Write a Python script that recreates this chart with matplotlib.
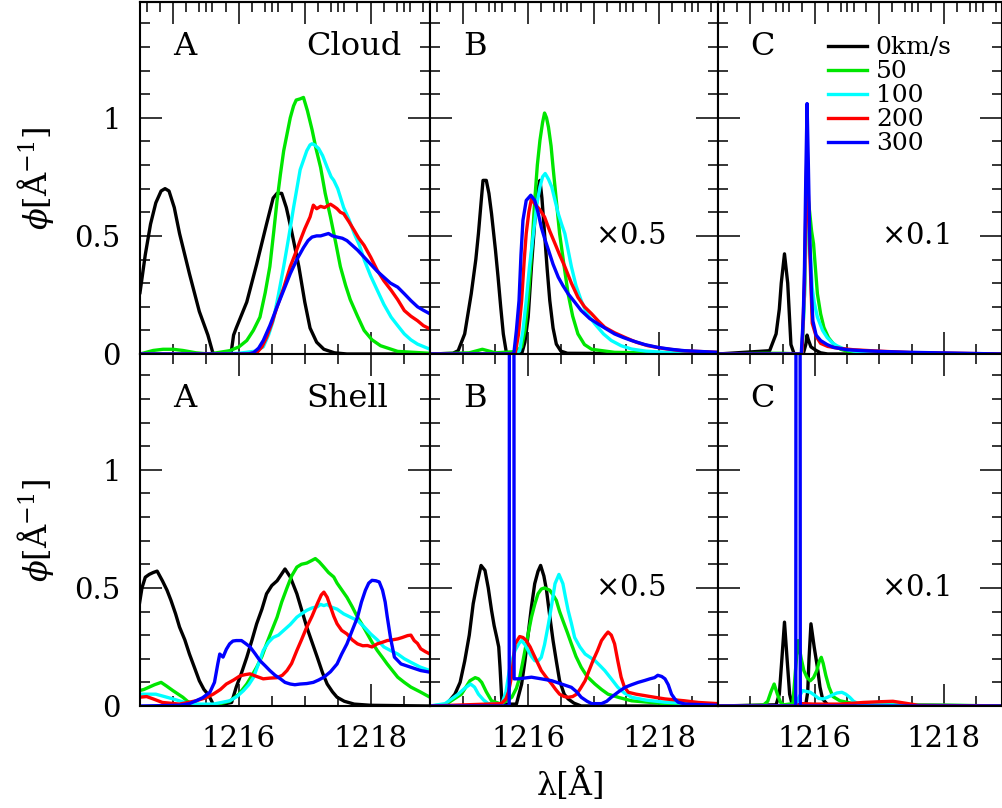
import numpy as np
import matplotlib
matplotlib.use("Agg")
import matplotlib.pyplot as plt
from matplotlib.ticker import MultipleLocator, FuncFormatter, FixedLocator

plt.rcParams['font.family'] = ['DejaVu Serif']
plt.rcParams['mathtext.fontset'] = 'dejavuserif'

## ---- Cloud, panel A ----
cA_x0 = [1214.50, 1214.58, 1214.66, 1214.74, 1214.82, 1214.88, 1214.94, 1215.02, 1215.10, 1215.25, 1215.40, 1215.53, 1215.60, 1215.62, 1215.88, 1215.92, 1215.96, 1216.12, 1216.27, 1216.42, 1216.52, 1216.58, 1216.65, 1216.72, 1216.80, 1216.91, 1217.00, 1217.08, 1217.18, 1217.29, 1217.45, 1217.64, 1218.90]
cA_y0 = [0.26, 0.42, 0.55, 0.64, 0.69, 0.70, 0.69, 0.62, 0.51, 0.34, 0.18, 0.08, 0.01, 0.00, 0.00, 0.08, 0.11, 0.22, 0.38, 0.55, 0.66, 0.68, 0.68, 0.62, 0.52, 0.37, 0.22, 0.11, 0.05, 0.02, 0.005, 0.0, 0.0]
cA_x50 = [1214.50, 1214.70, 1214.85, 1215.00, 1215.15, 1215.35, 1215.55, 1215.86, 1216.00, 1216.12, 1216.22, 1216.32, 1216.40, 1216.47, 1216.53, 1216.58, 1216.63, 1216.68, 1216.73, 1216.78, 1216.83, 1216.87, 1216.93, 1216.98, 1217.04, 1217.11, 1217.17, 1217.24, 1217.31, 1217.39, 1217.47, 1217.54, 1217.62, 1217.69, 1217.80, 1217.90, 1218.02, 1218.15, 1218.41, 1218.90]
cA_y50 = [0.0, 0.015, 0.02, 0.02, 0.015, 0.005, 0.0, 0.014, 0.03, 0.057, 0.10, 0.156, 0.26, 0.37, 0.52, 0.65, 0.76, 0.86, 0.93, 1.0, 1.05, 1.075, 1.08, 1.086, 1.03, 0.95, 0.87, 0.79, 0.68, 0.58, 0.47, 0.37, 0.29, 0.23, 0.16, 0.10, 0.06, 0.035, 0.011, 0.003]
cA_x100 = [1214.50, 1215.50, 1216.00, 1216.25, 1216.37, 1216.45, 1216.52, 1216.60, 1216.68, 1216.76, 1216.83, 1216.88, 1216.93, 1216.98, 1217.03, 1217.08, 1217.11, 1217.15, 1217.21, 1217.27, 1217.34, 1217.40, 1217.44, 1217.50, 1217.59, 1217.67, 1217.75, 1217.83, 1217.90, 1218.00, 1218.10, 1218.20, 1218.31, 1218.41, 1218.51, 1218.61, 1218.71, 1218.90]
cA_y100 = [0.0, 0.0, 0.003, 0.012, 0.03, 0.08, 0.14, 0.25, 0.37, 0.50, 0.62, 0.70, 0.78, 0.82, 0.86, 0.885, 0.89, 0.885, 0.87, 0.84, 0.79, 0.75, 0.735, 0.70, 0.62, 0.57, 0.51, 0.46, 0.40, 0.33, 0.27, 0.21, 0.156, 0.12, 0.085, 0.06, 0.042, 0.02]
cA_x200 = [1214.50, 1216.10, 1216.27, 1216.35, 1216.42, 1216.50, 1216.58, 1216.68, 1216.78, 1216.85, 1216.93, 1217.00, 1217.08, 1217.13, 1217.18, 1217.24, 1217.30, 1217.39, 1217.44, 1217.49, 1217.54, 1217.59, 1217.67, 1217.75, 1217.82, 1217.90, 1218.00, 1218.10, 1218.20, 1218.31, 1218.41, 1218.51, 1218.61, 1218.71, 1218.80, 1218.90]
cA_y200 = [0.0, 0.0, 0.005, 0.03, 0.07, 0.13, 0.20, 0.28, 0.37, 0.42, 0.48, 0.53, 0.58, 0.63, 0.615, 0.625, 0.62, 0.634, 0.625, 0.615, 0.60, 0.594, 0.56, 0.523, 0.49, 0.46, 0.41, 0.354, 0.31, 0.27, 0.23, 0.184, 0.16, 0.141, 0.12, 0.106]
cA_x300 = [1214.50, 1216.15, 1216.22, 1216.30, 1216.37, 1216.47, 1216.58, 1216.68, 1216.78, 1216.88, 1216.98, 1217.05, 1217.11, 1217.18, 1217.24, 1217.30, 1217.36, 1217.42, 1217.49, 1217.57, 1217.64, 1217.72, 1217.80, 1217.90, 1218.00, 1218.10, 1218.20, 1218.30, 1218.41, 1218.51, 1218.61, 1218.71, 1218.80, 1218.90]
cA_y300 = [0.0, 0.0, 0.005, 0.025, 0.057, 0.12, 0.20, 0.27, 0.34, 0.40, 0.45, 0.48, 0.495, 0.50, 0.50, 0.505, 0.51, 0.50, 0.495, 0.49, 0.48, 0.46, 0.44, 0.41, 0.38, 0.35, 0.325, 0.30, 0.283, 0.255, 0.226, 0.20, 0.185, 0.17]

## ---- Cloud, panel B (x0.5) ----
cB_x0 = [1214.50, 1214.85, 1214.93, 1215.03, 1215.13, 1215.20, 1215.24, 1215.28, 1215.31, 1215.36, 1215.40, 1215.44, 1215.50, 1215.54, 1215.58, 1215.62, 1215.67, 1215.90, 1215.95, 1216.00, 1216.05, 1216.10, 1216.15, 1216.18, 1216.21, 1216.25, 1216.29, 1216.33, 1216.38, 1216.43, 1216.50, 1216.60, 1218.90]
cB_y0 = [0.0, 0.003, 0.014, 0.085, 0.255, 0.40, 0.51, 0.64, 0.735, 0.735, 0.68, 0.594, 0.44, 0.325, 0.20, 0.085, 0.0, 0.0, 0.05, 0.156, 0.37, 0.56, 0.70, 0.735, 0.66, 0.51, 0.36, 0.226, 0.11, 0.042, 0.012, 0.003, 0.0]
cB_x50 = [1214.50, 1215.10, 1215.30, 1215.50, 1215.80, 1215.90, 1215.95, 1216.00, 1216.05, 1216.10, 1216.14, 1216.18, 1216.22, 1216.25, 1216.28, 1216.31, 1216.35, 1216.38, 1216.43, 1216.48, 1216.55, 1216.61, 1216.68, 1216.76, 1216.86, 1216.97, 1217.32, 1218.90]
cB_y50 = [0.0, 0.005, 0.02, 0.005, 0.01, 0.03, 0.10, 0.23, 0.42, 0.65, 0.80, 0.905, 0.98, 1.02, 1.0, 0.96, 0.88, 0.79, 0.65, 0.51, 0.37, 0.255, 0.16, 0.085, 0.04, 0.02, 0.007, 0.0]
cB_x100 = [1214.50, 1215.80, 1215.87, 1215.92, 1215.97, 1216.02, 1216.08, 1216.13, 1216.18, 1216.22, 1216.26, 1216.31, 1216.36, 1216.41, 1216.46, 1216.51, 1216.56, 1216.61, 1216.66, 1216.73, 1216.81, 1216.90, 1217.02, 1217.15, 1217.27, 1217.42, 1217.58, 1217.80, 1218.09, 1218.90]
cB_y100 = [0.0, 0.0, 0.014, 0.10, 0.226, 0.37, 0.51, 0.63, 0.707, 0.75, 0.764, 0.74, 0.707, 0.65, 0.594, 0.55, 0.51, 0.44, 0.37, 0.29, 0.226, 0.17, 0.127, 0.085, 0.057, 0.035, 0.021, 0.012, 0.007, 0.002]
cB_x200 = [1214.50, 1215.80, 1215.85, 1215.90, 1215.94, 1215.97, 1216.01, 1216.05, 1216.10, 1216.18, 1216.25, 1216.33, 1216.41, 1216.48, 1216.56, 1216.66, 1216.76, 1216.86, 1216.97, 1217.07, 1217.17, 1217.32, 1217.48, 1217.65, 1217.83, 1218.05, 1218.34, 1218.90]
cB_y200 = [0.0, 0.0, 0.08, 0.226, 0.40, 0.51, 0.60, 0.657, 0.636, 0.61, 0.58, 0.52, 0.467, 0.42, 0.37, 0.30, 0.24, 0.20, 0.17, 0.14, 0.113, 0.09, 0.07, 0.05, 0.035, 0.024, 0.014, 0.007]
cB_x300 = [1214.50, 1215.78, 1215.82, 1215.86, 1215.89, 1215.92, 1215.97, 1216.04, 1216.10, 1216.15, 1216.20, 1216.25, 1216.31, 1216.38, 1216.46, 1216.53, 1216.61, 1216.71, 1216.81, 1216.94, 1217.07, 1217.20, 1217.32, 1217.45, 1217.58, 1217.78, 1217.98, 1218.18, 1218.39, 1218.90]
cB_y300 = [0.0, 0.0, 0.10, 0.226, 0.42, 0.566, 0.65, 0.672, 0.65, 0.60, 0.537, 0.49, 0.44, 0.38, 0.325, 0.29, 0.255, 0.22, 0.184, 0.15, 0.127, 0.105, 0.085, 0.07, 0.057, 0.04, 0.028, 0.02, 0.014, 0.007]

## ---- Cloud, panel C (x0.1) ----
cC_x0 = [1214.50, 1215.30, 1215.40, 1215.45, 1215.48, 1215.53, 1215.58, 1215.63, 1215.68, 1215.82, 1215.86, 1215.88, 1215.90, 1215.94, 1216.02, 1216.09, 1216.20, 1218.90]
cC_y0 = [0.0, 0.014, 0.085, 0.19, 0.30, 0.424, 0.30, 0.04, 0.0, 0.0, 0.04, 0.08, 0.06, 0.03, 0.015, 0.005, 0.0, 0.0]
cC_x50 = [1214.50, 1215.20, 1215.50, 1215.80, 1215.84, 1215.88, 1215.92, 1215.95, 1215.98, 1216.04, 1216.09, 1216.14, 1216.21, 1216.29, 1216.40, 1216.50, 1216.75, 1218.90]
cC_y50 = [0.0, 0.003, 0.003, 0.0, 0.25, 0.70, 0.60, 0.52, 0.467, 0.255, 0.17, 0.113, 0.07, 0.042, 0.02, 0.012, 0.003, 0.0]
cC_x100 = [1214.50, 1215.80, 1215.84, 1215.88, 1215.92, 1215.96, 1215.99, 1216.04, 1216.12, 1216.19, 1216.27, 1216.34, 1216.45, 1216.60, 1217.00, 1218.90]
cC_y100 = [0.0, 0.0, 0.25, 0.70, 0.48, 0.28, 0.22, 0.156, 0.10, 0.07, 0.048, 0.035, 0.022, 0.012, 0.004, 0.0]
cC_x200 = [1214.50, 1215.80, 1215.84, 1215.88, 1215.92, 1215.96, 1216.02, 1216.09, 1216.20, 1216.35, 1216.60, 1217.00, 1217.50, 1218.90]
cC_y200 = [0.0, 0.0, 0.30, 0.90, 0.45, 0.13, 0.075, 0.045, 0.032, 0.025, 0.018, 0.012, 0.006, 0.0]
cC_x300 = [1214.50, 1215.79, 1215.82, 1215.84, 1215.86, 1215.88, 1215.90, 1215.92, 1215.95, 1215.97, 1216.02, 1216.09, 1216.19, 1216.29, 1216.50, 1216.75, 1217.10, 1217.50, 1218.90]
cC_y300 = [0.0, 0.0, 0.15, 0.37, 0.75, 1.06, 0.80, 0.51, 0.25, 0.14, 0.08, 0.057, 0.04, 0.028, 0.018, 0.014, 0.01, 0.007, 0.0]

## ---- Shell, panel A ----
sA_x0 = [1214.49, 1214.53, 1214.58, 1214.64, 1214.70, 1214.76, 1214.84, 1214.91, 1214.97, 1215.04, 1215.10, 1215.18, 1215.25, 1215.33, 1215.40, 1215.47, 1215.53, 1215.58, 1215.62, 1215.89, 1215.96, 1216.04, 1216.12, 1216.20, 1216.27, 1216.35, 1216.42, 1216.50, 1216.58, 1216.64, 1216.70, 1216.78, 1216.88, 1216.96, 1217.03, 1217.11, 1217.19, 1217.27, 1217.34, 1217.42, 1217.49, 1217.60, 1217.75, 1218.00, 1218.90]
sA_y0 = [0.43, 0.50, 0.545, 0.557, 0.565, 0.571, 0.53, 0.49, 0.447, 0.39, 0.334, 0.28, 0.22, 0.16, 0.107, 0.07, 0.05, 0.025, 0.0, 0.015, 0.08, 0.14, 0.206, 0.28, 0.348, 0.41, 0.475, 0.51, 0.53, 0.555, 0.58, 0.546, 0.475, 0.40, 0.334, 0.27, 0.206, 0.14, 0.093, 0.06, 0.037, 0.02, 0.008, 0.003, 0.0]
sA_x50 = [1214.49, 1214.56, 1214.64, 1214.72, 1214.82, 1214.90, 1215.00, 1215.08, 1215.15, 1215.22, 1215.30, 1215.60, 1215.86, 1216.00, 1216.12, 1216.20, 1216.27, 1216.35, 1216.42, 1216.50, 1216.58, 1216.65, 1216.73, 1216.80, 1216.88, 1216.95, 1217.03, 1217.10, 1217.16, 1217.22, 1217.29, 1217.36, 1217.44, 1217.49, 1217.54, 1217.59, 1217.64, 1217.72, 1217.80, 1217.88, 1217.95, 1218.02, 1218.10, 1218.18, 1218.25, 1218.33, 1218.41, 1218.51, 1218.61, 1218.75, 1218.90]
sA_y50 = [0.065, 0.07, 0.08, 0.09, 0.10, 0.085, 0.065, 0.05, 0.037, 0.02, 0.008, 0.002, 0.02, 0.05, 0.093, 0.13, 0.164, 0.21, 0.263, 0.32, 0.376, 0.44, 0.50, 0.55, 0.588, 0.60, 0.605, 0.615, 0.624, 0.61, 0.588, 0.565, 0.546, 0.52, 0.50, 0.48, 0.46, 0.42, 0.376, 0.34, 0.305, 0.27, 0.235, 0.205, 0.178, 0.15, 0.122, 0.10, 0.08, 0.06, 0.037]
sA_x100 = [1214.49, 1214.60, 1214.74, 1214.87, 1215.00, 1215.12, 1215.25, 1215.40, 1215.61, 1215.86, 1215.97, 1216.07, 1216.15, 1216.22, 1216.30, 1216.37, 1216.45, 1216.52, 1216.60, 1216.68, 1216.78, 1216.88, 1216.95, 1217.03, 1217.11, 1217.19, 1217.24, 1217.29, 1217.34, 1217.39, 1217.49, 1217.59, 1217.70, 1217.80, 1217.90, 1218.00, 1218.10, 1218.20, 1218.30, 1218.41, 1218.51, 1218.61, 1218.75, 1218.90]
sA_y100 = [0.05, 0.05, 0.05, 0.04, 0.03, 0.02, 0.01, 0.008, 0.008, 0.022, 0.04, 0.065, 0.09, 0.12, 0.18, 0.235, 0.27, 0.29, 0.30, 0.32, 0.345, 0.376, 0.39, 0.405, 0.415, 0.42, 0.43, 0.425, 0.43, 0.42, 0.41, 0.39, 0.375, 0.362, 0.335, 0.305, 0.28, 0.25, 0.235, 0.22, 0.20, 0.185, 0.165, 0.15]
sA_x200 = [1214.49, 1214.60, 1214.70, 1214.84, 1215.10, 1215.35, 1215.50, 1215.61, 1215.72, 1215.81, 1215.92, 1216.02, 1216.10, 1216.17, 1216.27, 1216.37, 1216.47, 1216.58, 1216.66, 1216.73, 1216.80, 1216.88, 1216.95, 1217.03, 1217.11, 1217.19, 1217.25, 1217.29, 1217.34, 1217.39, 1217.44, 1217.49, 1217.56, 1217.64, 1217.72, 1217.80, 1217.88, 1217.95, 1218.02, 1218.10, 1218.18, 1218.25, 1218.33, 1218.41, 1218.48, 1218.56, 1218.61, 1218.66, 1218.71, 1218.76, 1218.83, 1218.90]
sA_y200 = [0.037, 0.04, 0.03, 0.015, 0.008, 0.022, 0.035, 0.05, 0.07, 0.093, 0.11, 0.128, 0.133, 0.136, 0.125, 0.115, 0.118, 0.12, 0.13, 0.15, 0.18, 0.235, 0.28, 0.334, 0.38, 0.433, 0.47, 0.482, 0.46, 0.42, 0.38, 0.348, 0.32, 0.305, 0.28, 0.263, 0.255, 0.256, 0.25, 0.263, 0.27, 0.277, 0.28, 0.284, 0.29, 0.298, 0.30, 0.277, 0.265, 0.242, 0.23, 0.22]
sA_x300 = [1214.49, 1215.10, 1215.25, 1215.35, 1215.45, 1215.56, 1215.63, 1215.68, 1215.71, 1215.76, 1215.81, 1215.86, 1215.91, 1215.96, 1216.04, 1216.10, 1216.17, 1216.25, 1216.32, 1216.40, 1216.47, 1216.55, 1216.63, 1216.70, 1216.78, 1216.85, 1216.93, 1217.03, 1217.13, 1217.21, 1217.29, 1217.39, 1217.49, 1217.56, 1217.64, 1217.72, 1217.80, 1217.86, 1217.92, 1217.97, 1218.02, 1218.08, 1218.13, 1218.18, 1218.22, 1218.25, 1218.30, 1218.36, 1218.46, 1218.61, 1218.76, 1218.90]
sA_y300 = [0.0, 0.003, 0.01, 0.022, 0.035, 0.058, 0.10, 0.178, 0.22, 0.207, 0.24, 0.263, 0.275, 0.277, 0.277, 0.265, 0.25, 0.22, 0.192, 0.17, 0.15, 0.13, 0.115, 0.10, 0.093, 0.09, 0.093, 0.095, 0.10, 0.11, 0.122, 0.145, 0.178, 0.22, 0.263, 0.32, 0.376, 0.44, 0.49, 0.52, 0.532, 0.53, 0.525, 0.49, 0.44, 0.38, 0.29, 0.207, 0.178, 0.164, 0.15, 0.143]

## ---- Shell, panel B (x0.5) ----
sB_x0 = [1214.50, 1214.73, 1214.88, 1214.96, 1215.03, 1215.10, 1215.16, 1215.22, 1215.28, 1215.34, 1215.39, 1215.44, 1215.48, 1215.52, 1215.55, 1215.57, 1215.60, 1215.82, 1215.90, 1215.95, 1216.00, 1216.05, 1216.10, 1216.15, 1216.19, 1216.24, 1216.28, 1216.33, 1216.38, 1216.43, 1216.48, 1216.55, 1216.61, 1216.70, 1216.81, 1218.90]
sB_y0 = [0.0, 0.0, 0.05, 0.10, 0.19, 0.30, 0.433, 0.52, 0.595, 0.574, 0.50, 0.405, 0.34, 0.29, 0.25, 0.164, 0.008, 0.008, 0.093, 0.19, 0.305, 0.42, 0.518, 0.57, 0.595, 0.55, 0.49, 0.38, 0.277, 0.19, 0.107, 0.05, 0.03, 0.012, 0.0, 0.0]
sB_x50 = [1214.50, 1214.73, 1214.98, 1215.06, 1215.11, 1215.19, 1215.24, 1215.29, 1215.36, 1215.44, 1215.59, 1215.75, 1215.82, 1215.87, 1215.92, 1215.97, 1216.05, 1216.10, 1216.15, 1216.20, 1216.25, 1216.33, 1216.38, 1216.43, 1216.48, 1216.53, 1216.60, 1216.66, 1216.73, 1216.81, 1216.90, 1217.02, 1217.12, 1217.22, 1217.40, 1217.58, 1218.09, 1218.90]
sB_y50 = [0.0, 0.005, 0.05, 0.085, 0.107, 0.12, 0.115, 0.10, 0.06, 0.022, 0.008, 0.037, 0.075, 0.12, 0.19, 0.263, 0.376, 0.43, 0.475, 0.495, 0.50, 0.49, 0.47, 0.447, 0.40, 0.362, 0.31, 0.263, 0.21, 0.164, 0.125, 0.093, 0.07, 0.05, 0.035, 0.022, 0.01, 0.003]
sB_x100 = [1214.50, 1214.73, 1214.93, 1215.03, 1215.12, 1215.18, 1215.24, 1215.32, 1215.39, 1215.60, 1215.66, 1215.72, 1215.80, 1215.86, 1215.90, 1215.95, 1216.00, 1216.05, 1216.10, 1216.15, 1216.20, 1216.25, 1216.31, 1216.36, 1216.41, 1216.47, 1216.53, 1216.57, 1216.61, 1216.66, 1216.71, 1216.79, 1216.87, 1216.95, 1217.02, 1217.10, 1217.17, 1217.27, 1217.37, 1217.47, 1217.58, 1217.80, 1218.09, 1218.90]
sB_y100 = [0.0, 0.01, 0.05, 0.075, 0.093, 0.08, 0.05, 0.025, 0.01, 0.01, 0.06, 0.164, 0.235, 0.265, 0.277, 0.26, 0.235, 0.21, 0.192, 0.19, 0.206, 0.26, 0.348, 0.43, 0.518, 0.557, 0.518, 0.46, 0.405, 0.35, 0.29, 0.25, 0.22, 0.205, 0.192, 0.17, 0.15, 0.115, 0.079, 0.055, 0.037, 0.025, 0.016, 0.005]
sB_x200 = [1214.50, 1215.59, 1215.66, 1215.70, 1215.75, 1215.80, 1215.87, 1215.92, 1215.97, 1216.03, 1216.08, 1216.14, 1216.20, 1216.28, 1216.36, 1216.42, 1216.48, 1216.55, 1216.61, 1216.68, 1216.74, 1216.80, 1216.87, 1216.93, 1216.99, 1217.06, 1217.12, 1217.18, 1217.22, 1217.27, 1217.32, 1217.37, 1217.42, 1217.47, 1217.53, 1217.65, 1217.78, 1217.93, 1218.09, 1218.24, 1218.39, 1218.60, 1218.90]
sB_y200 = [0.0, 0.01, 0.03, 0.06, 0.13, 0.263, 0.294, 0.29, 0.277, 0.25, 0.22, 0.185, 0.15, 0.12, 0.093, 0.07, 0.05, 0.04, 0.037, 0.04, 0.05, 0.075, 0.107, 0.15, 0.192, 0.235, 0.277, 0.30, 0.313, 0.30, 0.263, 0.19, 0.122, 0.08, 0.058, 0.05, 0.044, 0.037, 0.03, 0.026, 0.022, 0.015, 0.01]
sB_x300 = [1214.50, 1215.71, 1215.72, 1215.775, 1215.785, 1215.85, 1216.05, 1216.20, 1216.36, 1216.51, 1216.66, 1216.74, 1216.81, 1216.90, 1216.97, 1217.12, 1217.20, 1217.27, 1217.38, 1217.48, 1217.58, 1217.68, 1217.78, 1217.86, 1217.93, 1217.98, 1218.04, 1218.09, 1218.14, 1218.19, 1218.24, 1218.29, 1218.40, 1218.90]
sB_y300 = [0.0, 0.0, 6.0, 6.0, 0.115, 0.115, 0.122, 0.115, 0.107, 0.093, 0.079, 0.06, 0.037, 0.02, 0.01, 0.01, 0.02, 0.037, 0.06, 0.079, 0.09, 0.10, 0.108, 0.115, 0.12, 0.13, 0.125, 0.115, 0.09, 0.05, 0.03, 0.016, 0.008, 0.003]

## ---- Shell, panel C (x0.1) ----
sC_x0 = [1214.50, 1215.40, 1215.45, 1215.49, 1215.53, 1215.57, 1215.61, 1215.65, 1215.86, 1215.89, 1215.91, 1215.94, 1215.99, 1216.04, 1216.08, 1216.12, 1216.20, 1218.90]
sC_y0 = [0.0, 0.005, 0.05, 0.2, 0.355, 0.2, 0.05, 0.005, 0.005, 0.06, 0.2, 0.348, 0.25, 0.164, 0.08, 0.03, 0.005, 0.0]
sC_x50 = [1214.50, 1215.20, 1215.27, 1215.32, 1215.37, 1215.42, 1215.47, 1215.52, 1215.66, 1215.70, 1215.74, 1215.79, 1215.83, 1215.88, 1215.93, 1215.98, 1216.03, 1216.07, 1216.10, 1216.13, 1216.17, 1216.22, 1216.28, 1216.39, 1216.60, 1218.90]
sC_y50 = [0.0, 0.003, 0.02, 0.06, 0.093, 0.05, 0.015, 0.005, 0.01, 0.15, 0.277, 0.2, 0.15, 0.12, 0.107, 0.12, 0.15, 0.19, 0.206, 0.18, 0.13, 0.08, 0.04, 0.022, 0.01, 0.0]
sC_x100 = [1214.50, 1215.70, 1215.76, 1215.81, 1215.87, 1215.93, 1216.00, 1216.06, 1216.13, 1216.19, 1216.26, 1216.34, 1216.42, 1216.48, 1216.54, 1216.60, 1216.70, 1218.90]
sC_y100 = [0.0, 0.0, 0.04, 0.065, 0.062, 0.058, 0.045, 0.032, 0.03, 0.036, 0.045, 0.055, 0.058, 0.05, 0.037, 0.02, 0.006, 0.0]
sC_x200 = [1214.50, 1215.70, 1215.80, 1216.00, 1216.40, 1216.75, 1217.00, 1217.21, 1217.40, 1217.60, 1218.90]
sC_y200 = [0.0, 0.0, 0.01, 0.008, 0.008, 0.015, 0.018, 0.02, 0.012, 0.003, 0.0]
sC_x300 = [1214.50, 1215.705, 1215.715, 1215.765, 1215.775, 1218.90]
sC_y300 = [0.0, 0.0, 6.0, 6.0, 0.0, 0.0]

velocities = ['0km/s', '50', '100', '200', '300']
colours = ['black', '#00e600', '#00ffff', '#ff0000', '#0000ff']
panel_letters = ['A', 'B', 'C']
geometries = ['Cloud', 'Shell']
scale_notes = [None, r'$\times$0.5', r'$\times$0.1']

panels = [
    [[(cA_x0, cA_y0), (cA_x50, cA_y50), (cA_x100, cA_y100), (cA_x200, cA_y200), (cA_x300, cA_y300)],
     [(cB_x0, cB_y0), (cB_x50, cB_y50), (cB_x100, cB_y100), (cB_x200, cB_y200), (cB_x300, cB_y300)],
     [(cC_x0, cC_y0), (cC_x50, cC_y50), (cC_x100, cC_y100), (cC_x200, cC_y200), (cC_x300, cC_y300)]],
    [[(sA_x0, sA_y0), (sA_x50, sA_y50), (sA_x100, sA_y100), (sA_x200, sA_y200), (sA_x300, sA_y300)],
     [(sB_x0, sB_y0), (sB_x50, sB_y50), (sB_x100, sB_y100), (sB_x200, sB_y200), (sB_x300, sB_y300)],
     [(sC_x0, sC_y0), (sC_x50, sC_y50), (sC_x100, sC_y100), (sC_x200, sC_y200), (sC_x300, sC_y300)]],
]

W, H = 1002, 808
fig = plt.figure(figsize=(W / 100, H / 100), dpi=100)

lefts = [140, 430, 718]
widths = [290, 288, 284]
bottoms = [354, 706]
panel_h = 352

tick_fs = 21
text_fs = 23

top_minor = np.union1d(np.round(np.arange(1214.2, 1219.0, 0.2), 2),
                       np.arange(1214.5, 1219.0, 0.5))

for r in range(2):
    for c in range(3):
        ax = fig.add_axes([lefts[c] / W, (H - bottoms[r]) / H, widths[c] / W, panel_h / H])
        for k, (xs, ys) in enumerate(panels[r][c]):
            ax.plot(xs, ys, color=colours[k], lw=2.4, label=velocities[k],
                    solid_joinstyle='round')
        ax.set_xlim(1214.5, 1218.9)
        ax.set_ylim(0, 1.49)

        ax.xaxis.set_major_locator(MultipleLocator(2))
        ax.xaxis.set_minor_locator(MultipleLocator(0.5))
        ax.yaxis.set_major_locator(MultipleLocator(0.5))
        ax.yaxis.set_minor_locator(MultipleLocator(0.1))
        ax.yaxis.set_major_formatter(FuncFormatter(lambda v, p: '%g' % v))
        ax.tick_params(which='both', direction='in', right=True, top=(r == 1),
                       width=1.1, labelsize=tick_fs)
        ax.tick_params(which='major', length=16, pad=14)
        ax.tick_params(which='minor', length=7.5)
        ax.tick_params(labelbottom=(r == 1), labelleft=(c == 0))
        for s in ax.spines.values():
            s.set_linewidth(1.5)

        if r == 0:
            sec = ax.secondary_xaxis('top')
            sec.xaxis.set_major_locator(MultipleLocator(1))
            sec.xaxis.set_minor_locator(FixedLocator(top_minor))
            sec.tick_params(which='both', direction='in', labeltop=False, width=1.1)
            sec.tick_params(which='major', length=16)
            sec.tick_params(which='minor', length=7.5)
            sec.spines['top'].set_linewidth(1.5)

        ax.text(1215.0, 1.3, panel_letters[c], fontsize=text_fs, va='center', ha='left')
        if c == 0:
            ax.text(1217.02, 1.3, geometries[r], fontsize=text_fs, va='center', ha='left')
            ax.set_ylabel(r'$\phi[\mathrm{\AA}^{-1}]$', fontsize=text_fs)
            ax.yaxis.set_label_coords(-0.29, 0.5)
        if scale_notes[c]:
            ax.text(1217.02, 0.5, scale_notes[c], fontsize=tick_fs, va='center', ha='left')
        if r == 0 and c == 2:
            ax.legend(loc='upper left', bbox_to_anchor=(1216.21, 1.345),
                      bbox_transform=ax.transData, frameon=False, fontsize=18,
                      handlelength=1.55, handletextpad=0.35, labelspacing=0.04,
                      borderpad=0, borderaxespad=0)

fig.text(571 / W, (H - 785) / H, 'λ[Å]', fontsize=text_fs, ha='center', va='center')

fig.savefig('out.png', dpi=100)
